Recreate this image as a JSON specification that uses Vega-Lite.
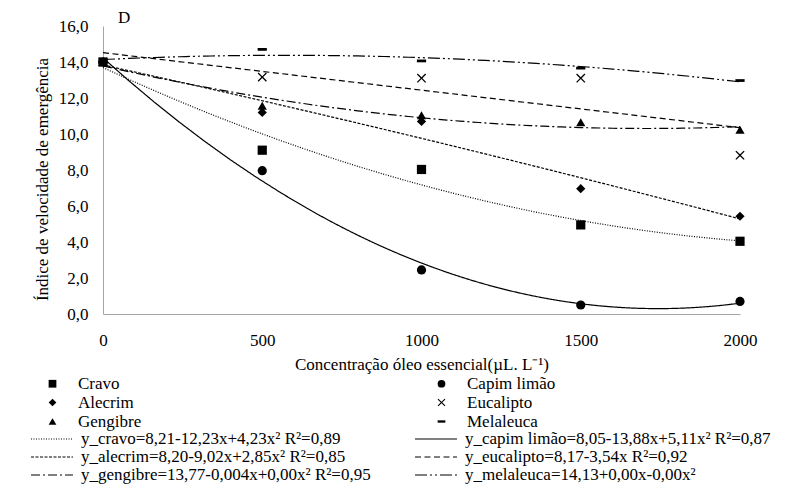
{
  "$schema": "https://vega.github.io/schema/vega-lite/v6.json",
  "width": 637,
  "height": 288,
  "autosize": {"type": "none"},
  "padding": {"left": 103, "top": 26, "right": 47, "bottom": 170},
  "background": "white",
  "config": {
    "view": {"stroke": null},
    "font": "Liberation Serif",
    "axis": {"labelFont": "Liberation Serif", "titleFont": "Liberation Serif", "labelFontSize": 17, "titleFontSize": 17, "labelColor": "#000000", "titleColor": "#000000", "titleFontWeight": "normal", "grid": false, "ticks": false, "domainColor": "#a6a6a6", "domainWidth": 1},
    "legend": {"labelFont": "Liberation Serif", "labelFontSize": 17, "labelColor": "#000000", "padding": 0, "labelLimit": 500}
  },
  "title": {"text": "D", "anchor": "start", "frame": "group", "dx": 15, "offset": -23, "baseline": "alphabetic", "fontSize": 17, "font": "Liberation Serif", "fontWeight": "normal", "color": "#000000"},
  "data": {"values": [
    {"series": "Cravo", "trend": "y_cravo=8,21-12,23x+4,23x² R²=0,89", "x": 0, "y": 14.0},
    {"series": "Cravo", "trend": "y_cravo=8,21-12,23x+4,23x² R²=0,89", "x": 500, "y": 9.1},
    {"series": "Cravo", "trend": "y_cravo=8,21-12,23x+4,23x² R²=0,89", "x": 1000, "y": 8.03},
    {"series": "Cravo", "trend": "y_cravo=8,21-12,23x+4,23x² R²=0,89", "x": 1500, "y": 4.95},
    {"series": "Cravo", "trend": "y_cravo=8,21-12,23x+4,23x² R²=0,89", "x": 2000, "y": 4.04},
    {"series": "Capim limão", "trend": "y_capim limão=8,05-13,88x+5,11x² R²=0,87", "x": 0, "y": 14.0},
    {"series": "Capim limão", "trend": "y_capim limão=8,05-13,88x+5,11x² R²=0,87", "x": 500, "y": 7.96},
    {"series": "Capim limão", "trend": "y_capim limão=8,05-13,88x+5,11x² R²=0,87", "x": 1000, "y": 2.45},
    {"series": "Capim limão", "trend": "y_capim limão=8,05-13,88x+5,11x² R²=0,87", "x": 1500, "y": 0.5},
    {"series": "Capim limão", "trend": "y_capim limão=8,05-13,88x+5,11x² R²=0,87", "x": 2000, "y": 0.7},
    {"series": "Alecrim", "trend": "y_alecrim=8,20-9,02x+2,85x² R²=0,85", "x": 0, "y": 14.0},
    {"series": "Alecrim", "trend": "y_alecrim=8,20-9,02x+2,85x² R²=0,85", "x": 500, "y": 11.2},
    {"series": "Alecrim", "trend": "y_alecrim=8,20-9,02x+2,85x² R²=0,85", "x": 1000, "y": 10.7},
    {"series": "Alecrim", "trend": "y_alecrim=8,20-9,02x+2,85x² R²=0,85", "x": 1500, "y": 6.96},
    {"series": "Alecrim", "trend": "y_alecrim=8,20-9,02x+2,85x² R²=0,85", "x": 2000, "y": 5.43},
    {"series": "Eucalipto", "trend": "y_eucalipto=8,17-3,54x R²=0,92", "x": 0, "y": 14.0},
    {"series": "Eucalipto", "trend": "y_eucalipto=8,17-3,54x R²=0,92", "x": 500, "y": 13.16},
    {"series": "Eucalipto", "trend": "y_eucalipto=8,17-3,54x R²=0,92", "x": 1000, "y": 13.1},
    {"series": "Eucalipto", "trend": "y_eucalipto=8,17-3,54x R²=0,92", "x": 1500, "y": 13.1},
    {"series": "Eucalipto", "trend": "y_eucalipto=8,17-3,54x R²=0,92", "x": 2000, "y": 8.82},
    {"series": "Gengibre", "trend": "y_gengibre=13,77-0,004x+0,00x² R²=0,95", "x": 0, "y": 14.0},
    {"series": "Gengibre", "trend": "y_gengibre=13,77-0,004x+0,00x² R²=0,95", "x": 500, "y": 11.57},
    {"series": "Gengibre", "trend": "y_gengibre=13,77-0,004x+0,00x² R²=0,95", "x": 1000, "y": 11.04},
    {"series": "Gengibre", "trend": "y_gengibre=13,77-0,004x+0,00x² R²=0,95", "x": 1500, "y": 10.65},
    {"series": "Gengibre", "trend": "y_gengibre=13,77-0,004x+0,00x² R²=0,95", "x": 2000, "y": 10.24},
    {"series": "Melaleuca", "trend": "y_melaleuca=14,13+0,00x-0,00x²", "x": 0, "y": 14.0},
    {"series": "Melaleuca", "trend": "y_melaleuca=14,13+0,00x-0,00x²", "x": 500, "y": 14.7},
    {"series": "Melaleuca", "trend": "y_melaleuca=14,13+0,00x-0,00x²", "x": 1000, "y": 14.06},
    {"series": "Melaleuca", "trend": "y_melaleuca=14,13+0,00x-0,00x²", "x": 1500, "y": 13.66},
    {"series": "Melaleuca", "trend": "y_melaleuca=14,13+0,00x-0,00x²", "x": 2000, "y": 12.97}
  ]},
  "encoding": {
    "x": {"field": "x", "type": "quantitative", "scale": {"domain": [0, 2000], "nice": false},
      "axis": {"values": [0, 500, 1000, 1500, 2000], "format": "d", "labelPadding": 18, "labelFlush": false, "title": "Concentração óleo essencial(µL. L⁻¹)", "titleY": 50, "titleBaseline": "middle", "titleAlign": "center"}},
    "y": {"field": "y", "type": "quantitative", "scale": {"domain": [0, 16], "nice": false},
      "axis": {"values": [0, 2, 4, 6, 8, 10, 12, 14, 16], "labelPadding": 15, "labelExpr": "replace(format(datum.value, '.1f'), '.', ',')", "title": "Índice de velocidade de emergência", "titleX": -61, "titleY": 153, "titleBaseline": "middle", "titleAlign": "center", "titleAngle": -90}}
  },
  "layer": [
    {
      "transform": [
        {"filter": "datum.series !== 'Eucalipto'"},
        {"regression": "y", "on": "x", "groupby": ["trend"], "method": "poly", "order": 2, "extent": [0, 2000]}
      ],
      "mark": {"type": "line", "color": "#000000", "strokeWidth": 1.2},
      "encoding": {
        "strokeDash": {"field": "trend", "type": "nominal",
          "scale": {"domain": ["y_cravo=8,21-12,23x+4,23x² R²=0,89", "y_capim limão=8,05-13,88x+5,11x² R²=0,87", "y_alecrim=8,20-9,02x+2,85x² R²=0,85", "y_eucalipto=8,17-3,54x R²=0,92", "y_gengibre=13,77-0,004x+0,00x² R²=0,95", "y_melaleuca=14,13+0,00x-0,00x²"],
            "range": [[1, 1.5], [1, 0], [3, 1.5], [6, 3.5], [9, 3, 2, 3], [12, 3, 2, 3, 2, 3]]},
          "legend": {"title": null, "columns": 2, "direction": "horizontal", "orient": "none", "legendX": -60, "legendY": 404, "symbolType": "M-2.5,0H2.5", "symbolSize": 282, "symbolStrokeColor": "#000000", "symbolStrokeWidth": 1, "labelOffset": 20, "columnPadding": 42, "rowPadding": 1}}
      }
    },
    {
      "transform": [
        {"filter": "datum.series === 'Eucalipto'"},
        {"regression": "y", "on": "x", "groupby": ["trend"], "method": "linear", "extent": [0, 2000]}
      ],
      "mark": {"type": "line", "color": "#000000", "strokeWidth": 1.2},
      "encoding": {
        "strokeDash": {"field": "trend", "type": "nominal"}
      }
    },
    {
      "mark": {"type": "point", "filled": true, "color": "#000000", "opacity": 1, "size": 85},
      "encoding": {
        "shape": {"field": "series", "type": "nominal",
          "scale": {"domain": ["Cravo", "Capim limão", "Alecrim", "Eucalipto", "Gengibre", "Melaleuca"],
            "range": ["square", "circle", "diamond", "M-1,-0.8L-0.8,-1L0,-0.2L0.8,-1L1,-0.8L0.2,0L1,0.8L0.8,1L0,0.2L-0.8,1L-1,0.8L-0.2,0Z", "triangle-up", "M-1,-0.3H1V0.3H-1Z"]},
          "legend": {"title": null, "columns": 2, "direction": "horizontal", "orient": "none", "legendX": -59, "legendY": 349, "symbolSize": 60, "symbolFillColor": "#000000", "labelOffset": 17, "columnPadding": 291, "rowPadding": 1}}
      }
    }
  ]
}
